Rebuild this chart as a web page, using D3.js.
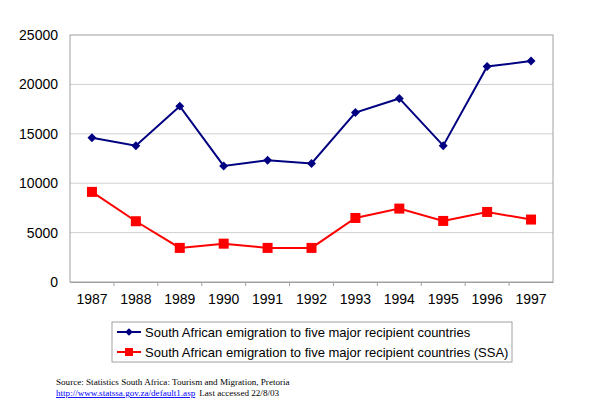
<!DOCTYPE html>
<html><head><meta charset="utf-8">
<script src="https://cdn.jsdelivr.net/npm/d3@7"></script>
<style>body{margin:0;background:#fff}svg{display:block}</style>
</head><body><svg id="c" width="600" height="416"></svg>
<script>
const years = ["1987","1988","1989","1990","1991","1992","1993","1994","1995","1996","1997"];
const emigration = [14600,13800,17800,11750,12330,12000,17150,18580,13800,21820,22360];
const emigrationSSA = [9120,6150,3450,3880,3450,3450,6480,7430,6180,7090,6320];
const yTicks = [0,5000,10000,15000,20000,25000];
const seriesNames = ["South African emigration to five major recipient countries","South African emigration to five major recipient countries (SSA)"];

const svg = d3.select("#c");
const L=70,R=553,T=35,B=282;
const x = d3.scaleBand().domain(years).range([L,R]);
const y = d3.scaleLinear().domain([0,25000]).range([B,T]);
const font = "Arial, 'Liberation Sans', sans-serif";

// gridlines
svg.append("g").selectAll("line").data(yTicks.slice(1,-1)).join("line")
  .attr("x1",L).attr("x2",R).attr("y1",d=>y(d)).attr("y2",d=>y(d))
  .attr("stroke","#d0d0d0").attr("stroke-width",1);
svg.append("rect").attr("x",L).attr("y",T).attr("width",R-L).attr("height",B-T)
  .attr("fill","none").attr("stroke","#a0a0a0").attr("stroke-width",1);

// y axis labels
const ya = svg.append("g").attr("transform",`translate(${L},0)`)
  .call(d3.axisLeft(y).tickValues(yTicks).tickSize(0).tickPadding(12).tickFormat(d3.format("d")));
ya.select(".domain").remove();
ya.selectAll("text").attr("font-family",font).attr("font-size",14).attr("fill","#000");

// x axis
const xa = svg.append("g").attr("transform",`translate(0,${B})`)
  .call(d3.axisBottom(x).tickSize(0).tickPadding(12));
xa.select(".domain").attr("stroke","#a0a0a0");
xa.selectAll("text").attr("font-family",font).attr("font-size",14).attr("fill","#000");
svg.append("g").selectAll("line").data(years.slice(1)).join("line")
  .attr("x1",d=>x(d)).attr("x2",d=>x(d)).attr("y1",B).attr("y2",B+4)
  .attr("stroke","#a0a0a0");

const cx = d=>x(d)+x.bandwidth()/2;
const line = d3.line().x((d,i)=>cx(years[i])).y(d=>y(d));
const blue="#000080", red="#ff0000";
svg.append("path").datum(emigration).attr("d",line).attr("fill","none").attr("stroke",blue).attr("stroke-width",2);
svg.append("path").datum(emigrationSSA).attr("d",line).attr("fill","none").attr("stroke",red).attr("stroke-width",2);
svg.append("g").selectAll("path").data(emigration).join("path")
  .attr("transform",(d,i)=>`translate(${cx(years[i])},${y(d)}) rotate(45)`)
  .attr("d",d3.symbol().type(d3.symbolSquare).size(40)).attr("fill",blue);
svg.append("g").selectAll("rect").data(emigrationSSA).join("rect")
  .attr("x",(d,i)=>cx(years[i])-5).attr("y",d=>y(d)-5).attr("width",10).attr("height",10).attr("fill",red);

// legend
const lg = svg.append("g");
lg.append("rect").attr("x",112).attr("y",322).attr("width",400).attr("height",40)
  .attr("fill","#fff").attr("stroke","#a0a0a0");
[[blue,"d"],[red,"s"]].forEach((c,i)=>{
  const yy = 332+i*20;
  lg.append("line").attr("x1",117).attr("x2",141).attr("y1",yy).attr("y2",yy).attr("stroke",c[0]).attr("stroke-width",2);
  if(c[1]==="d") lg.append("path").attr("transform",`translate(129,${yy}) rotate(45)`).attr("d",d3.symbol().type(d3.symbolSquare).size(30)).attr("fill",c[0]);
  else lg.append("rect").attr("x",125).attr("y",yy-4).attr("width",8).attr("height",8).attr("fill",c[0]);
  lg.append("text").attr("x",145).attr("y",yy).attr("dy","0.35em").attr("font-family",font).attr("font-size",13).text(seriesNames[i]);
});

// source
const sf = "'Liberation Serif','Times New Roman',serif";
svg.append("text").attr("x",56).attr("y",385).attr("font-family",sf).attr("font-size",9.1).text("Source: Statistics South Africa: Tourism and Migration, Pretoria");
const t2 = svg.append("text").attr("x",56).attr("y",396).attr("font-family",sf).attr("font-size",9.1).attr("xml:space","preserve");
t2.append("tspan").attr("fill","#0000ff").attr("text-decoration","underline").text("http://www.statssa.gov.za/default1.asp");
t2.append("tspan").attr("dx",4).text("Last accessed 22/8/03");
</script></body></html>
